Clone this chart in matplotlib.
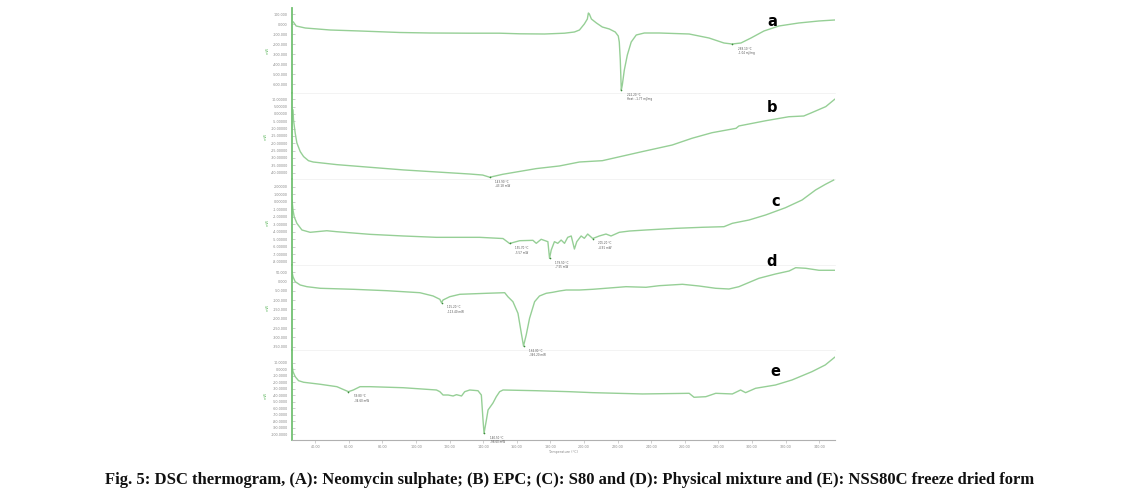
import matplotlib
matplotlib.use("Agg")
import matplotlib.pyplot as plt

# ---------------- data (temperature in °C, heat flow in mW) ----------------
a_temp = [27.0, 28.7, 34.1, 48.9, 66.7, 90.4, 108.3, 132.0, 149.8, 161.7, 176.5, 188.4,
          194.3, 197.3, 200.2, 202.0, 202.6, 203.2, 204.4, 207.4, 210.9, 215.1, 218.6,
          220.4, 221.0, 221.6, 222.2, 222.8, 224.0, 225.8, 228.1, 231.1, 235.9, 244.8,
          262.6, 274.4, 283.3, 288.1, 293.4, 299.4, 307.1, 316.0, 327.8, 339.7, 349.2]
a_heat = [20, -20, -40, -60, -70, -85, -90, -92, -92, -98, -100, -92,
          -80, -60, 0, 50, 110, 100, 50, 10, -30, -50, -80,
          -120, -180, -360, -660, -610, -460, -310, -180, -110, -90, -90,
          -100, -140, -190, -200, -190, -140, -70, -20, 10, 30, 40]

b_temp = [26.8, 27.1, 28.1, 29.1, 31.1, 33.1, 36.0, 38.8, 52.9, 72.6, 92.4, 112.2, 132.0,
          139.7, 143.9, 151.6, 171.6, 185.4, 197.3, 210.9, 234.7, 252.5, 264.3, 276.2,
          290.5, 292.2, 308.3, 321.9, 330.8, 335.6, 343.9, 349.2]
b_heat = [2.7, -4.1, -13.0, -19.8, -25.7, -29.1, -31.9, -32.8, -34.6, -36.4, -38.2, -39.6,
          -41.0, -41.7, -43.2, -41.2, -37.3, -35.5, -32.8, -31.9, -25.7, -21.2, -16.6,
          -12.8, -9.8, -8.2, -4.6, -1.9, -1.4, 0.9, 5.0, 10.0]

c_temp = [26.2, 26.8, 27.5, 29.1, 32.1, 37.0, 46.9, 52.9, 72.6, 92.4, 112.2, 137.9, 151.8,
          155.7, 161.7, 169.6, 171.6, 174.5, 178.5, 179.5, 180.5, 182.4, 184.4, 186.4,
          188.4, 190.3, 192.4, 194.3, 195.7, 198.3, 200.2, 202.2, 205.2, 209.1, 213.1,
          216.1, 221.0, 227.0, 236.9, 254.7, 270.5, 283.3, 288.3, 298.2, 308.1, 319.9,
          329.8, 337.8, 343.7, 348.6]
c_heat = [0.23, -1.11, -2.00, -2.88, -3.77, -4.08, -3.87, -4.00, -4.35, -4.57, -4.75, -4.75,
          -4.91, -5.57, -5.20, -5.15, -5.55, -5.01, -5.33, -7.55, -6.44, -5.33, -5.55,
          -5.11, -5.55, -4.75, -4.57, -6.31, -5.33, -4.57, -4.88, -4.31, -4.91, -4.57,
          -4.31, -4.57, -4.08, -3.91, -3.77, -3.55, -3.41, -3.33, -2.88, -2.44, -1.77,
          -0.80, 0.23, 1.56, 2.32, 2.89]

d_temp = [26.2, 26.8, 28.1, 31.1, 35.1, 43.0, 62.7, 82.6, 102.3, 110.2, 114.2, 115.2, 116.1,
          120.1, 126.1, 141.9, 152.8, 154.7, 157.7, 160.7, 162.7, 164.0, 165.6, 167.6,
          170.6, 173.5, 177.5, 181.4, 185.4, 189.4, 197.3, 205.2, 225.0, 236.9, 244.8,
          258.6, 268.5, 278.4, 286.3, 292.2, 304.1, 314.0, 322.1, 326.0, 332.0, 339.9, 349.4]
d_heat = [53.2, 26.3, -0.5, -18.3, -27.4, -36.0, -41.4, -48.9, -59.7, -77.4, -95.2, -113.4,
          -98.9, -81.2, -68.3, -62.9, -59.7, -81.2, -108.1, -170.4, -277.9, -346.2, -287.1,
          -197.3, -108.1, -77.4, -62.9, -57.5, -50.5, -45.2, -45.2, -41.4, -27.4, -30.6,
          -22.0, -14.5, -23.7, -36.0, -39.8, -27.4, 17.7, 40.9, 57.0, 74.7, 71.5, 60.8, 60.8]

e_temp = [26.2, 26.8, 28.1, 30.1, 33.1, 43.0, 52.9, 59.8, 62.7, 66.7, 72.6, 92.4, 112.2,
          114.2, 116.1, 119.1, 122.1, 124.1, 127.1, 129.0, 132.0, 136.9, 138.9, 139.9,
          140.5, 141.9, 142.9, 145.8, 147.8, 149.8, 151.8, 171.6, 191.3, 205.2, 234.8,
          262.6, 265.5, 272.5, 278.4, 288.3, 293.2, 296.2, 302.1, 314.0, 323.8, 335.7,
          343.6, 349.2]
e_heat = [6.5, -3.8, -11.5, -17.7, -20.1, -23.2, -26.9, -34.6, -32.0, -26.9, -26.9, -28.5,
          -32.0, -34.6, -39.7, -39.7, -41.2, -39.2, -41.2, -34.6, -32.0, -33.1, -39.7,
          -78.2, -98.6, -78.2, -62.7, -52.1, -42.3, -34.6, -32.0, -33.1, -34.6, -36.1,
          -38.1, -37.1, -43.2, -42.3, -37.1, -38.1, -32.0, -36.1, -29.4, -24.3, -16.6,
          -3.8, 6.5, 18.3]

a_yticks = [100, 0, -100, -200, -300, -400, -500, -600]
a_ylabels = ["100.000", "0.000", "-100.000", "-200.000", "-300.000", "-400.000", "-500.000", "-600.000"]
b_yticks = [10, 5, 0, -5, -10, -15, -20, -25, -30, -35, -40]
b_ylabels = ["10.00000", "5.00000", "0.00000", "-5.00000", "-10.00000", "-15.00000",
             "-20.00000", "-25.00000", "-30.00000", "-35.00000", "-40.00000"]
c_yticks = [2, 1, 0, -1, -2, -3, -4, -5, -6, -7, -8]
c_ylabels = ["2.00000", "1.00000", "0.00000", "-1.00000", "-2.00000", "-3.00000",
             "-4.00000", "-5.00000", "-6.00000", "-7.00000", "-8.00000"]
d_yticks = [50, 0, -50, -100, -150, -200, -250, -300, -350]
d_ylabels = ["50.000", "0.000", "-50.000", "-100.000", "-150.000", "-200.000",
             "-250.000", "-300.000", "-350.000"]
e_yticks = [10, 0, -10, -20, -30, -40, -50, -60, -70, -80, -90, -100]
e_ylabels = ["10.0000", "0.0000", "-10.0000", "-20.0000", "-30.0000", "-40.0000",
             "-50.0000", "-60.0000", "-70.0000", "-80.0000", "-90.0000", "-100.0000"]
x_ticks = [40, 60, 80, 100, 120, 140, 160, 180, 200, 220, 240, 260, 280, 300, 320, 340]
x_labels = ["%.2f" % t for t in x_ticks]

panel_letters = ["a", "b", "c", "d", "e"]
peak_notes = {
    "a": [(222.2, -660, "222.20 °C\nHeat: -1.77 mJ/mg"), (288.1, -200, "288.10 °C\n-1.04 mJ/mg")],
    "b": [(143.9, -43.2, "143.90 °C\n-43.18 mW")],
    "c": [(155.7, -5.57, "155.70 °C\n-5.57 mW"), (179.5, -7.55, "179.50 °C\n-7.55 mW"),
          (205.2, -4.91, "205.20 °C\n-4.91 mW")],
    "d": [(115.2, -113.4, "115.20 °C\n-113.40 mW"), (164.0, -346.2, "164.00 °C\n-346.20 mW")],
    "e": [(59.8, -34.6, "59.80 °C\n-34.60 mW"), (140.5, -98.6, "140.50 °C\n-98.60 mW")],
}

# ---------------- layout ----------------
W, H = 1130, 503
fig = plt.figure(figsize=(W / 100, H / 100), dpi=100)

left_px, right_px = 292, 835
panels = [
    (a_temp, a_heat, a_yticks, a_ylabels, (8, 93), (160, -690)),
    (b_temp, b_heat, b_yticks, b_ylabels, (93, 179), (14.3, -44.4)),
    (c_temp, c_heat, c_yticks, c_ylabels, (179, 265), (3.03, -8.44)),
    (d_temp, d_heat, d_yticks, d_ylabels, (265, 350), (89.2, -367.7)),
    (e_temp, e_heat, e_yticks, e_ylabels, (350, 440), (29.5, -108.9)),
]
xlim = (26.2, 349.4)

line_col = "#96cf96"
spine_col = "#72c072"
tick_txt = "#8a8a8a"

for i, (tx, hy, yt, yl, (top, bot), (ytop, ybot)) in enumerate(panels):
    ax = fig.add_axes([left_px / W, 1 - bot / H, (right_px - left_px) / W, (bot - top) / H])
    ax.plot(tx, hy, color=line_col, lw=1.0, solid_joinstyle="round")
    ax.set_xlim(*xlim)
    ax.set_ylim(ybot, ytop)
    ax.set_yticks(yt)
    ax.set_yticklabels(yl, fontsize=2.4, color=tick_txt)
    ax.tick_params(axis="y", direction="in", length=2.5, width=0.4, color="#aaaaaa", pad=3)
    for s in ("top", "right"):
        ax.spines[s].set_visible(False)
    ax.spines["left"].set_color(spine_col)
    ax.spines["left"].set_linewidth(1.3)
    ax.set_ylabel("mW", fontsize=2.6, color=spine_col, labelpad=2)
    ax.patch.set_alpha(0)
    if i < 4:
        ax.spines["bottom"].set_color("#efefef")
        ax.spines["bottom"].set_linewidth(0.5)
        ax.set_xticks([])
    else:
        ax.spines["bottom"].set_color("#b0b0b0")
        ax.spines["bottom"].set_linewidth(0.8)
        ax.set_xticks(x_ticks)
        ax.set_xticklabels(x_labels, fontsize=2.4, color=tick_txt)
        ax.tick_params(axis="x", direction="out", length=2, width=0.4, color="#aaaaaa", pad=1.5)
        ax.set_xlabel("Temperature (°C)", fontsize=2.4, color=tick_txt, labelpad=1)
    for (px, py, note) in peak_notes[panel_letters[i]]:
        ax.plot([px], [py], marker="o", ms=1.2, color="#3a8a3a", mec="none")
        ax.annotate(note, (px, py), xytext=(4, -2), textcoords="offset points",
                    fontsize=2.0, color="#555555", va="top", ha="left", linespacing=1.1)

# panel letters
letter_pos = [(772, 22), (772, 108), (776, 201), (772, 262), (775, 372)]
for letter, (px, py) in zip(panel_letters, letter_pos):
    fig.text(px / W, 1 - py / H, letter, fontsize=10.5, fontweight="heavy",
             family="DejaVu Sans", ha="center", va="center", color="black")

# caption
fig.text(570 / W, 1 - 480 / H,
         "Fig. 5: DSC thermogram, (A): Neomycin sulphate; (B) EPC; (C): S80 and (D): Physical mixture and (E): NSS80C freeze dried form",
         fontsize=12, fontweight="bold", family="Liberation Serif", ha="center", va="center", color="#111111")

fig.savefig("out.png", dpi=100)
